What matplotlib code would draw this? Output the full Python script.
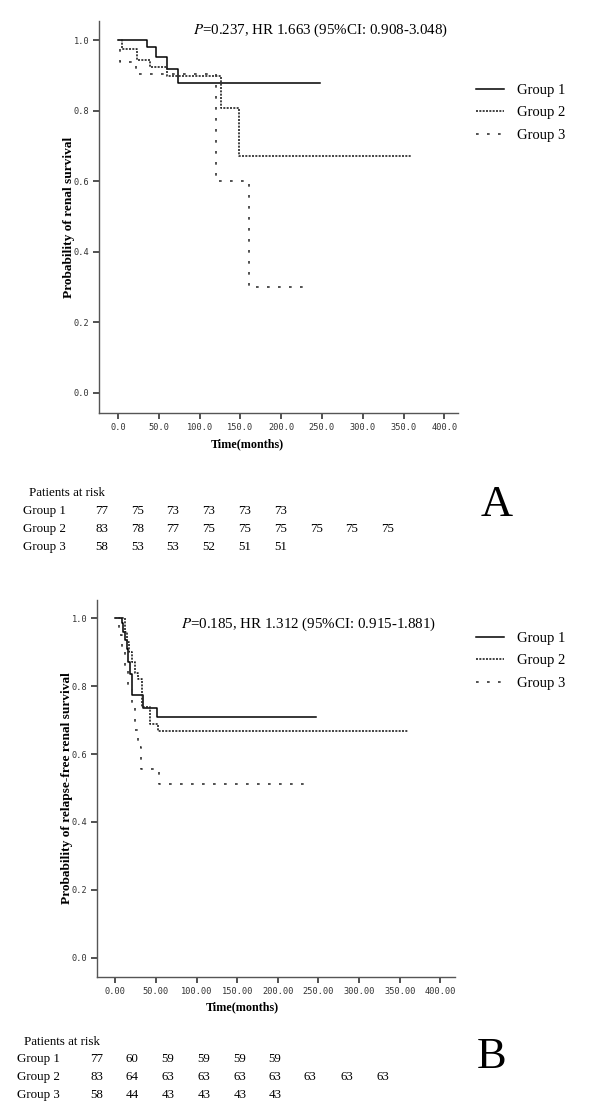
import matplotlib
matplotlib.use('Agg')
import matplotlib.pyplot as plt

plt.rcParams['mathtext.fontset'] = 'stix'

# ---- data ----
groups = ['Group 1', 'Group 2', 'Group 3']

# Panel A: renal survival (time in months, survival probability)
a_g1_t = [0, 35, 47, 60, 73, 248]
a_g1_s = [1.0, 0.981, 0.953, 0.919, 0.879, 0.879]
a_g2_t = [0, 5, 23, 39, 60, 126, 148, 360]
a_g2_s = [1.0, 0.976, 0.943, 0.923, 0.898, 0.807, 0.672, 0.672]
a_g3_t = [0, 3, 22, 120, 160, 235]
a_g3_s = [1.0, 0.937, 0.904, 0.601, 0.300, 0.300]

# Panel B: relapse-free renal survival
b_g1_t = [0, 8, 10, 12, 14, 16, 18, 21, 34, 51, 247]
b_g1_s = [1.0, 0.987, 0.96, 0.935, 0.91, 0.87, 0.835, 0.774, 0.737, 0.708, 0.708]
b_g2_t = [0, 12, 14, 17, 20, 24, 28, 33, 43, 53, 360]
b_g2_s = [1.0, 0.96, 0.93, 0.90, 0.87, 0.84, 0.82, 0.74, 0.69, 0.667, 0.667]
b_g3_t = [0, 5, 8, 12, 16, 20, 24, 28, 32, 54, 236]
b_g3_s = [1.0, 0.95, 0.90, 0.85, 0.80, 0.74, 0.67, 0.62, 0.555, 0.511, 0.511]

# Patients at risk
risk_a_g1 = [77, 75, 73, 73, 73, 73]
risk_a_g2 = [83, 78, 77, 75, 75, 75, 75, 75, 75]
risk_a_g3 = [58, 53, 53, 52, 51, 51]
risk_b_g1 = [77, 60, 59, 59, 59, 59]
risk_b_g2 = [83, 64, 63, 63, 63, 63, 63, 63, 63]
risk_b_g3 = [58, 44, 43, 43, 43, 43]

x_ticks = [0, 50, 100, 150, 200, 250, 300, 350, 400]
y_ticks = [0.0, 0.2, 0.4, 0.6, 0.8, 1.0]

stat_a = r'$P$=0.237, HR 1.663 (95%CI: 0.908-3.048)'
stat_b = r'$P$=0.185, HR 1.312 (95%CI: 0.915-1.881)'

W, H = 600, 1110
SERIF = 'Liberation Serif'
styles = [
    dict(color='black', lw=1.1, linestyle='-'),
    dict(color='#222222', lw=1.2, linestyle=(0, (1.2, 0.8))),
    dict(color='#333333', lw=1.2, linestyle=(0, (1.6, 5.0))),
]


def fx(px):
    return px / W


def fy(py):
    return 1 - py / H


def draw_panel(fig, box, xlim, curves, ylabel, xfmt, stat, stat_xy, leg_xy, xlab_x):
    left, top, right, bottom = box
    ax = fig.add_axes([fx(left), fy(bottom), fx(right) - fx(left), fy(top) - fy(bottom)])
    for (t, s), st, name in zip(curves, styles, groups):
        ax.step(t, s, where='post', label=name, **st)
    ax.set_xlim(*xlim)
    ax.set_ylim(-0.057, 1.054)
    ax.set_xticks(x_ticks)
    ax.set_xticklabels([xfmt.format(v) for v in x_ticks])
    ax.set_yticks(y_ticks)
    ax.set_yticklabels(['{:.1f}'.format(v) for v in y_ticks])
    for side in ['top', 'right']:
        ax.spines[side].set_visible(False)
    for side in ['left', 'bottom']:
        ax.spines[side].set_color('#555555')
        ax.spines[side].set_linewidth(1.0)
    ax.tick_params(direction='out', length=4, width=1.2, color='#333333',
                   labelsize=6.2, labelcolor='#333333', pad=3)
    for lab in ax.get_xticklabels() + ax.get_yticklabels():
        lab.set_family('DejaVu Sans Mono')
    ax.set_ylabel(ylabel, family=SERIF, fontweight='bold', fontsize=9.6)
    ax.yaxis.set_label_coords(-0.066, 0.5)
    ax.set_xlabel('Time(months)', family=SERIF, fontweight='bold', fontsize=8.7)
    ax.xaxis.set_label_coords(xlab_x, -0.064)
    fig.text(fx(stat_xy[0]), fy(stat_xy[1]), stat, family=SERIF, fontsize=10.8,
             ha='left', va='center')
    ax.legend(loc='upper left', bbox_to_anchor=(fx(leg_xy[0]), fy(leg_xy[1])),
              bbox_transform=fig.transFigure, frameon=False, borderpad=0,
              borderaxespad=0, handlelength=1.95, handletextpad=0.85,
              labelspacing=0.62, prop={'family': SERIF, 'size': 10.5})
    return ax


def draw_risk(fig, head_xy, row_x, row_y, col_x, rows, letter, letter_xy):
    fig.text(fx(head_xy[0]), fy(head_xy[1]), 'Patients at risk', family=SERIF,
             fontsize=9.4, ha='left', va='center')
    for name, vals, y in zip(groups, rows, row_y):
        fig.text(fx(row_x), fy(y), name, family=SERIF, fontsize=9.4, ha='left', va='center')
        for v, x in zip(vals, col_x):
            fig.text(fx(x), fy(y), str(v), family=SERIF, fontsize=9.4, ha='center', va='center')
    fig.text(fx(letter_xy[0]), fy(letter_xy[1]), letter, family=SERIF, fontsize=32,
             ha='center', va='center')


fig = plt.figure(figsize=(W / 100, H / 100), dpi=100, facecolor='white')

draw_panel(fig, (99, 21, 458, 413), (-23.3, 416.7),
           [(a_g1_t, a_g1_s), (a_g2_t, a_g2_s), (a_g3_t, a_g3_s)],
           'Probability of renal survival', '{:.1f}', stat_a, (193, 30), (476, 84), 0.412)
draw_risk(fig, (29, 493), 23, [511, 529, 547],
          [102, 138, 173, 209, 245, 281, 317, 352, 388],
          [risk_a_g1, risk_a_g2, risk_a_g3], 'A', (497, 505))

draw_panel(fig, (97, 600, 455, 977), (-22.6, 418),
           [(b_g1_t, b_g1_s), (b_g2_t, b_g2_s), (b_g3_t, b_g3_s)],
           'Probability of relapse-free renal survival', '{:.2f}', stat_b, (181, 624), (476, 632), 0.407)
draw_risk(fig, (24, 1042), 17, [1059, 1077, 1095],
          [97, 132, 168, 204, 240, 275, 310, 347, 383],
          [risk_b_g1, risk_b_g2, risk_b_g3], 'B', (492, 1057))

fig.savefig('out.png', dpi=100, facecolor='white')
